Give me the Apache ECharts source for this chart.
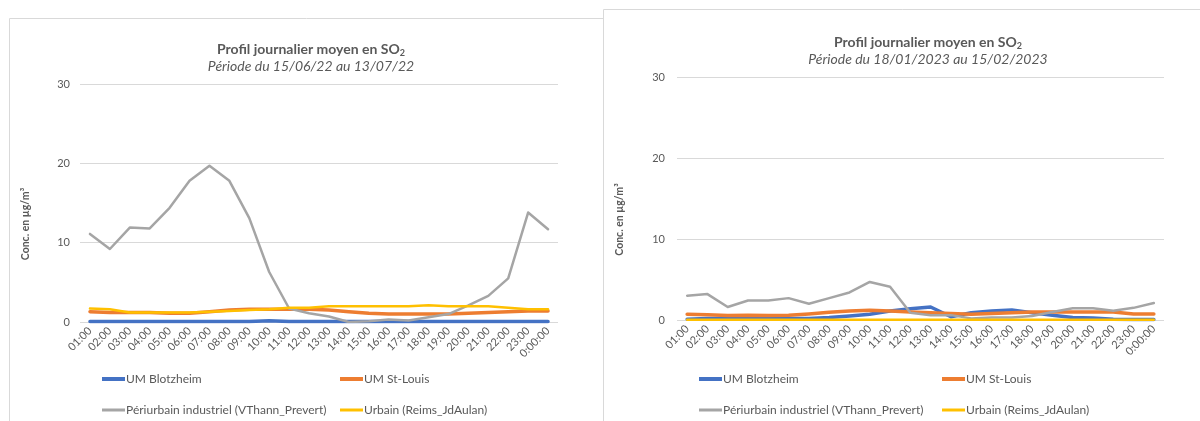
<!DOCTYPE html>
<html>
<head>
<meta charset="utf-8">
<script src="https://cdn.jsdelivr.net/npm/echarts@6/dist/echarts.min.js"></script>
<style>
html,body{margin:0;padding:0;background:#fff;}
#c{width:1200px;height:421px;}
</style>
</head>
<body>
<div id="c"></div>
<script>
const hours = ['01:00','02:00','03:00','04:00','05:00','06:00','07:00','08:00','09:00','10:00','11:00','12:00','13:00','14:00','15:00','16:00','17:00','18:00','19:00','20:00','21:00','22:00','23:00','0:00:00'];
const yTicks = [0, 10, 20, 30];
const seriesNames = ['UM Blotzheim', 'UM St-Louis', 'Périurbain industriel (VThann_Prevert)', 'Urbain (Reims_JdAulan)'];

// Left chart: 15/06/22 - 13/07/22
const blotzheimEte = [0.05,0.05,0.05,0.05,0.05,0.05,0.05,0.05,0.05,0.15,0.05,0.05,0.05,0.05,0.05,0.05,0.05,0.05,0.05,0.05,0.05,0.05,0.05,0.05];
const stLouisEte   = [1.3,1.2,1.2,1.2,1.1,1.1,1.3,1.5,1.6,1.6,1.6,1.6,1.5,1.3,1.1,1.0,1.0,1.0,1.0,1.1,1.2,1.3,1.4,1.4];
const periEte      = [11.1,9.2,11.9,11.8,14.4,17.8,19.7,17.8,13.1,6.3,1.7,1.1,0.7,0.0,0.1,0.3,0.2,0.6,1.0,2.1,3.3,5.5,13.8,11.7];
const urbainEte    = [1.7,1.6,1.2,1.2,1.2,1.2,1.3,1.4,1.5,1.6,1.8,1.8,2.0,2.0,2.0,2.0,2.0,2.1,2.0,2.0,2.0,1.8,1.6,1.6];

// Right chart: 18/01/2023 - 15/02/2023
const blotzheimHiver = [0.1,0.2,0.2,0.2,0.2,0.2,0.2,0.3,0.5,0.7,1.1,1.4,1.6,0.4,0.9,1.1,1.25,0.9,0.6,0.3,0.25,0.1,0.05,0.05];
const stLouisHiver   = [0.7,0.65,0.55,0.6,0.55,0.6,0.75,0.95,1.1,1.2,1.1,1.0,0.9,0.8,0.7,0.8,0.9,1.0,1.0,1.0,1.0,1.0,0.75,0.75];
const periHiver      = [3.0,3.2,1.6,2.4,2.4,2.7,2.0,2.7,3.4,4.7,4.1,0.9,0.6,0.6,0.2,0.3,0.3,0.5,1.0,1.45,1.45,1.15,1.5,2.1];
const urbainHiver    = [0.02,0.02,0.02,0.02,0.02,0.02,0.02,0.02,0.02,0.02,0.02,0.02,0.02,0.02,0.02,0.02,0.02,0.02,0.02,0.02,0.02,0.02,0.02,0.02];

const colors = ['#4472C4', '#ED7D31', '#A5A5A5', '#FFC000'];
const widths = [3.5, 3.5, 2.5, 2.5];
const FONT = 'Lato, "Open Sans", sans-serif';
const TXT = '#595959';

const chart = echarts.init(document.getElementById('c'), null, {renderer: 'canvas'});

function titleComp(cx, top, sub) {
  return [{
    text: 'Profil journalier moyen en SO{s|2}',
    left: cx, top: top, textAlign: 'center', padding: 0,
    textStyle: {fontFamily: FONT, fontSize: 14, fontWeight: 'bold', color: TXT,
      rich: {s: {fontFamily: FONT, fontSize: 9, fontWeight: 'bold', color: TXT, padding: [8, 0, 0, 0]}}}
  }, {
    text: sub,
    left: cx, top: top + 18, textAlign: 'center', padding: 0,
    textStyle: {fontFamily: FONT, fontSize: 14, fontStyle: 'italic', fontWeight: 'normal', color: TXT}
  }];
}

function legendComps(x1, x2, y1, y2, names) {
  const pos = [[x1, y1], [x2, y1], [x1, y2], [x2, y2]];
  return names.map((n, i) => ({
    data: [n], left: pos[i][0], top: pos[i][1], padding: 0,
    icon: 'rect', itemWidth: 23, itemHeight: widths[i] + 0.5, itemGap: 0,
    itemStyle: {color: colors[i], borderWidth: 0},
    lineStyle: {width: 0, opacity: 0},
    textStyle: {fontFamily: FONT, fontSize: 12, color: TXT, padding: [0, 0, 0, -4]}
  }));
}

function axisPair(gi, nameGap, labelMargin) {
  return {
    x: {
      type: 'category', gridIndex: gi, data: hours, boundaryGap: true,
      axisLine: {show: false}, axisTick: {show: false},
      axisLabel: {rotate: 45, fontFamily: FONT, fontSize: 11, color: TXT, margin: 7, interval: 0}
    },
    y: {
      type: 'value', gridIndex: gi, min: 0, max: 30, interval: 10,
      name: 'Conc. en µg/m³', nameLocation: 'middle', nameRotate: 90, nameGap: nameGap,
      nameTextStyle: {fontFamily: FONT, fontSize: 10.5, fontWeight: 'bold', color: TXT, padding: [0, 42, 0, 0]},
      axisLine: {show: false}, axisTick: {show: false},
      axisLabel: {fontFamily: FONT, fontSize: 11, color: TXT, margin: labelMargin,
        formatter: v => yTicks.includes(v) ? String(v) : ''},
      splitLine: {lineStyle: {color: '#D9D9D9', width: 1}}
    }
  };
}

const a0 = axisPair(0, 49, 10);
const a1 = axisPair(1, 52, 12);

function mkSeries(gi, arrs) {
  return arrs.map((d, i) => ({
    name: seriesNames[i], type: 'line', xAxisIndex: gi, yAxisIndex: gi,
    data: d, symbol: 'none', smooth: false,
    lineStyle: {color: colors[i], width: widths[i], cap: 'round', join: 'round'},
    itemStyle: {color: colors[i]},
    emphasis: {disabled: true}, animation: false
  }));
}

const option = {
  animation: false,
  color: colors,
  title: [].concat(titleComp(311, 41, 'Période du 15/06/22 au 13/07/22'), titleComp(928, 34, 'Période du 18/01/2023 au 15/02/2023')),
  legend: [].concat(legendComps(102, 340, 373, 404, seriesNames), legendComps(699, 942, 373, 404, seriesNames)),
  grid: [
    {left: 80, top: 84, width: 478, height: 238, containLabel: false},
    {left: 677, top: 77, width: 487, height: 243, containLabel: false}
  ],
  xAxis: [a0.x, a1.x],
  yAxis: [a0.y, a1.y],
  series: [].concat(
    mkSeries(0, [blotzheimEte, stLouisEte, periEte, urbainEte]),
    mkSeries(1, [blotzheimHiver, stLouisHiver, periHiver, urbainHiver])
  ),
  graphic: [
    {type: 'rect', shape: {x: 9.5, y: 18.5, width: 594, height: 500}, style: {fill: 'none', stroke: '#D9D9D9', lineWidth: 1}, silent: true, z: -1},
    {type: 'rect', shape: {x: 603.5, y: 9.5, width: 700, height: 500}, style: {fill: 'none', stroke: '#D9D9D9', lineWidth: 1}, silent: true, z: -1}
  ]
};
chart.setOption(option);
</script>
</body>
</html>
